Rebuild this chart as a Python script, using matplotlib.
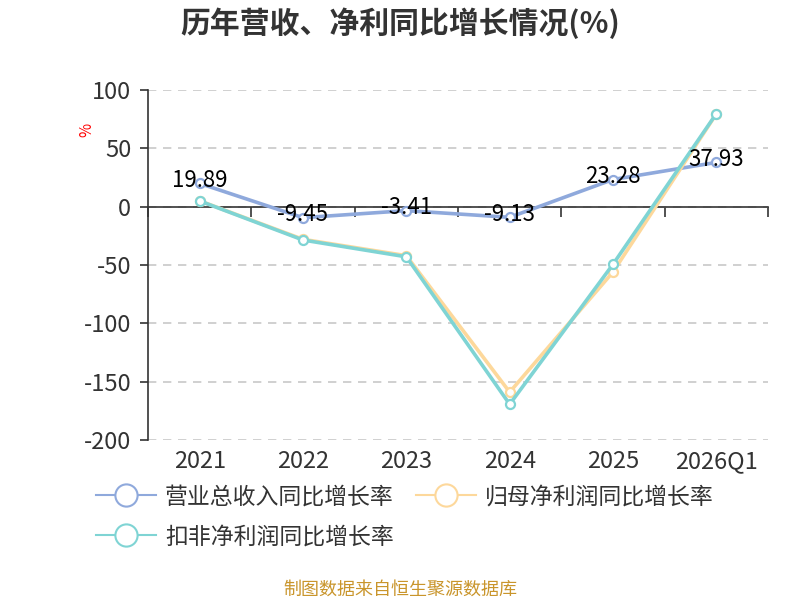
import matplotlib
matplotlib.use('Agg')
import numpy as np
import matplotlib.pyplot as plt
from matplotlib.transforms import blended_transform_factory

plt.rcParams['font.family'] = ['Noto Sans CJK SC', 'DejaVu Sans']
plt.rcParams['axes.unicode_minus'] = False

categories = ['2021', '2022', '2023', '2024', '2025', '2026Q1']
revenue = [19.89, -9.45, -3.41, -9.13, 23.28, 37.93]
net_profit = [5.0, -28.0, -42.0, -159.0, -56.0, 79.5]
net_profit_deducted = [4.9, -28.6, -43.0, -169.4, -49.4, 79.7]
series_names = ['营业总收入同比增长率', '归母净利润同比增长率', '扣非净利润同比增长率']
colors = ['#8fa9dc', '#fdd89b', '#7fd4d4']

x = np.arange(len(categories))

fig = plt.figure(figsize=(8, 6), dpi=100)
ax = fig.add_axes([0.185, 0.2667, 0.775, 0.5833])

handles = []
for i, (vals, name, c) in enumerate(zip([revenue, net_profit, net_profit_deducted], series_names, colors)):
    ax.plot(x, vals, color=c, lw=2.6, zorder=3 + i, solid_capstyle='round')
    ax.plot(x, vals, ls='none', marker='o', ms=6.5, mfc='white', mec=c, mew=1.6, zorder=3 + i)
    h, = ax.plot([], [], color=c, lw=1.5, marker='o', ms=16, mfc='white', mec=c, mew=1.5, label=name)
    handles.append(h)

for xi, v in zip(x, revenue):
    ax.annotate(f'{v:.2f}', (xi, v), textcoords='offset points', xytext=(0, 2),
                ha='center', va='center', fontsize=16, color='black', zorder=10)

ax.set_xlim(-0.5, len(categories) - 0.5)
ax.set_ylim(-200, 100)
ax.set_yticks([100, 50, 0, -50, -100, -150, -200])
ax.tick_params(axis='y', labelsize=17, labelcolor='#333333', length=6, width=1.2, color='#333333', pad=6)
ax.yaxis.grid(True, ls=(0, (5, 4)), color='#c8c8c8', lw=1.2)
ax.set_axisbelow(True)

ax.spines['top'].set_visible(False)
ax.spines['right'].set_visible(False)
ax.spines['left'].set_color('#333333')
ax.spines['left'].set_linewidth(1.2)
ax.spines['bottom'].set_position(('data', 0))
ax.spines['bottom'].set_color('#333333')
ax.spines['bottom'].set_linewidth(1.2)
ax.set_xticks(np.arange(-0.5, len(categories), 1.0))
ax.tick_params(axis='x', length=7, width=1.2, color='#333333', labelbottom=False)

trans = blended_transform_factory(ax.transData, ax.transAxes)
for xi, lab in zip(x, categories):
    ax.text(xi, -0.03, lab, transform=trans, ha='center', va='top', fontsize=17, color='#333333')

ax.text(-0.098, 0.886, '%', transform=ax.transAxes, rotation=90, color='red',
        fontsize=11, ha='center', va='center')

fig.text(0.5, 0.962, '历年营收、净利同比增长情况(%)', ha='center', va='center',
         fontsize=21.5, fontweight='bold', color='#333333')

# row-major order in the reference: rev, net / deducted
leg_handles = [handles[0], handles[2], handles[1]]
fig.legend(handles=leg_handles, loc='upper left', bbox_to_anchor=(0.1, 0.218),
           bbox_transform=fig.transFigure, ncol=2, frameon=False, fontsize=16.5,
           handlelength=2.6, handletextpad=0.4, columnspacing=1.0, labelspacing=0.75,
           labelcolor='#333333', borderpad=0.2)

fig.text(0.5, 0.017, '制图数据来自恒生聚源数据库', ha='center', va='center', fontsize=13, color='#c9952b')

fig.savefig('out.png', dpi=100)
